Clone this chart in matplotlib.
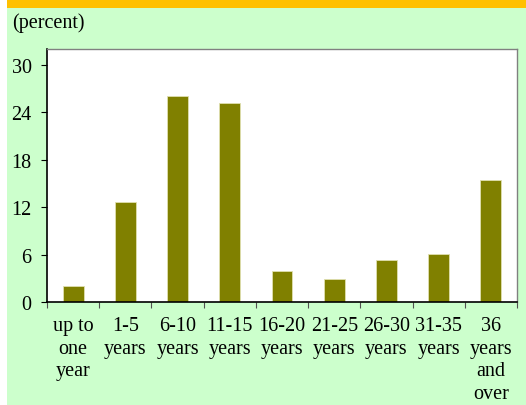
import matplotlib.pyplot as plt
from matplotlib.patches import Rectangle

# data
categories = ["up to\none\nyear", "1-5\nyears", "6-10\nyears", "11-15\nyears",
              "16-20\nyears", "21-25\nyears", "26-30\nyears", "31-35\nyears",
              "36\nyears\nand\nover"]
values = [2.1, 12.7, 26.0, 25.2, 4.0, 2.9, 5.3, 6.1, 15.4]
yticks = [0, 6, 12, 18, 24, 30]

plt.rcParams['font.family'] = ['Liberation Serif', 'DejaVu Serif']

W, H = 526, 406
fig = plt.figure(figsize=(W / 100, H / 100), dpi=100, facecolor='white')

# background panels
fig.patches.append(Rectangle((7 / W, 0), 1 - 7 / W, 1 - 9 / H, transform=fig.transFigure,
                             facecolor='#CCFFCC', edgecolor='none', zorder=-2))
fig.patches.append(Rectangle((7 / W, 1 - 9 / H), 1 - 7 / W, 9 / H, transform=fig.transFigure,
                             facecolor='#FFC000', edgecolor='none', zorder=-2))

fig.text(12 / W, 1 - 23 / H, "(percent)", fontsize=14.5, va='center', ha='left')

ax = fig.add_axes([47 / W, (H - 303.3) / H, 470 / W, 253.3 / H])
ax.set_facecolor('white')

x = list(range(len(values)))
ax.bar(x, values, width=0.4, color='#808000', edgecolor='#E0E0B0', linewidth=0.6)

ax.set_xlim(-0.5, len(values) - 0.5)
ax.set_ylim(0, 32)
ax.set_yticks(yticks)
ax.set_yticklabels([str(t) for t in yticks], fontsize=14.5)
ax.tick_params(axis='y', direction='out', length=4.5, width=0.8, pad=6.5)

# category labels between the tick marks at boundaries
ax.set_xticks([i + 0.5 for i in range(-1, len(values))])
ax.set_xticklabels([])
ax.set_xticks(x, minor=True)
ax.set_xticklabels(categories, minor=True, fontsize=14.5, linespacing=1.25, ha='center', va='top')
ax.tick_params(axis='x', which='major', direction='out', length=4.5, width=0.8, colors='#505050')
ax.tick_params(axis='x', which='minor', length=0, pad=10)

for side in ['left', 'bottom']:
    ax.spines[side].set_color('black')
    ax.spines[side].set_linewidth(1.2)
for side in ['top', 'right']:
    ax.spines[side].set_color('#808080')
    ax.spines[side].set_linewidth(1.0)

fig.savefig('out.png', dpi=100, facecolor=fig.get_facecolor())
